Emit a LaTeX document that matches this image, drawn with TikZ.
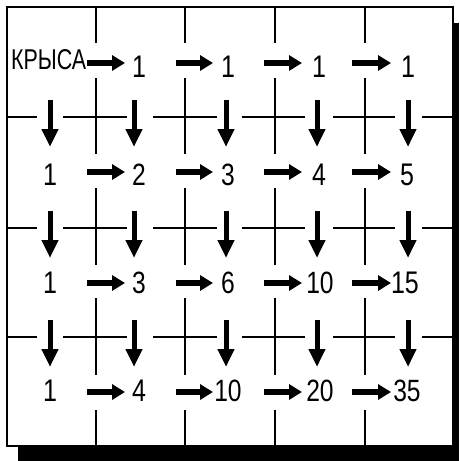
\documentclass[tikz,border=0pt]{standalone}
\usepackage{fontspec}
\setmainfont{Liberation Sans}
\usetikzlibrary{arrows.meta}
\newcommand{\nm}[1]{\scalebox{0.8}[1]{\resizebox{!}{21.5pt}{#1}}}
\begin{document}
\begin{tikzpicture}[x=1pt,y=-1pt,
  num/.style={inner sep=0pt, anchor=base, font=\fontsize{20}{20}\selectfont},
  gridline/.style={line width=2pt},
  harr/.style={line width=5.5pt, -{Triangle[length=13pt,width=15pt]}},
  varr/.style={line width=5pt, -{Triangle[length=18pt,width=16pt]}}]
\useasboundingbox (0,0) rectangle (459,461);
% shadow and frame
\fill[black] (18,23) rectangle (459,461);
\draw[gridline, fill=white] (7,7) rectangle (453,446);
% vertical grid lines (broken at the number rows)
\foreach \x in {96,185,275,365} {
  \draw[gridline] (\x,7) -- (\x,43);
  \draw[gridline] (\x,78) -- (\x,154);
  \draw[gridline] (\x,188) -- (\x,265);
  \draw[gridline] (\x,298) -- (\x,375);
  \draw[gridline] (\x,410) -- (\x,446);
}
% horizontal grid lines (broken at the down arrows)
\foreach \y in {117,228,337} {
  \draw[gridline] (7,\y) -- (37,\y);
  \draw[gridline] (63,\y) -- (127,\y);
  \draw[gridline] (153,\y) -- (217,\y);
  \draw[gridline] (242,\y) -- (305,\y);
  \draw[gridline] (333,\y) -- (395,\y);
  \draw[gridline] (422,\y) -- (453,\y);
}
% label
\node[inner sep=0pt, anchor=south west] (rat) at (11,70) {\resizebox{75pt}{20pt}{КРЫСА}};
% numbers
\node[num] (n-1-2) at (139,77) {\nm{1}};
\node[num] (n-1-3) at (228,77) {\nm{1}};
\node[num] (n-1-4) at (319,77) {\nm{1}};
\node[num] (n-1-5) at (408,77) {\nm{1}};
\node[num] (n-2-1) at (50,185) {\nm{1}};
\node[num] (n-2-2) at (139,185) {\nm{2}};
\node[num] (n-2-3) at (228,185) {\nm{3}};
\node[num] (n-2-4) at (319,185) {\nm{4}};
\node[num] (n-2-5) at (407,185) {\nm{5}};
\node[num] (n-3-1) at (50,293) {\nm{1}};
\node[num] (n-3-2) at (139,293) {\nm{3}};
\node[num] (n-3-3) at (228,293) {\nm{6}};
\node[num] (n-3-4) at (320,293) {\nm{10}};
\node[num] (n-3-5) at (405,293) {\nm{15}};
\node[num] (n-4-1) at (50,401) {\nm{1}};
\node[num] (n-4-2) at (139,401) {\nm{4}};
\node[num] (n-4-3) at (228,401) {\nm{10}};
\node[num] (n-4-4) at (320,401) {\nm{20}};
\node[num] (n-4-5) at (407,401) {\nm{35}};
% horizontal arrows
\foreach \r/\y in {1/63,2/172,3/283,4/392}
  \foreach \c/\a/\b in {2/87/125,3/176/213,4/264/302,5/352/391} {
    \coordinate (hs-\r-\c) at (\a,\y);
    \coordinate (he-\r-\c) at (\b,\y);
    \draw[harr] (hs-\r-\c) -- (he-\r-\c);
  }
% vertical arrows
\foreach \r/\a/\b in {1/100/147,2/211/258,3/320/367}
  \foreach \c/\x in {1/50,2/134,3/226,4/317,5/408} {
    \coordinate (vs-\r-\c) at (\x,\a);
    \coordinate (ve-\r-\c) at (\x,\b);
    \draw[varr] (vs-\r-\c) -- (ve-\r-\c);
  }
\end{tikzpicture}
\end{document}
